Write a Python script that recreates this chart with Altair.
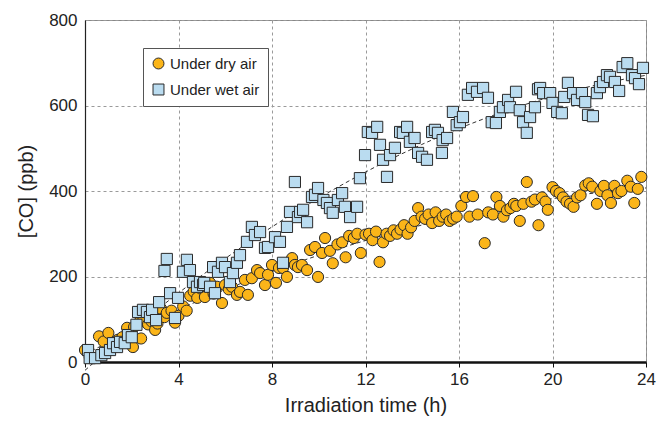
import altair as alt
import pandas as pd

series_names = ["Under dry air", "Under wet air"]

dry_h = [0.0, 0.2, 0.6, 0.8, 1.0, 1.2, 1.4, 1.6, 1.8, 2.05, 2.1, 2.3, 2.4, 2.5, 2.7, 2.85, 3.0, 3.1,
         3.25, 3.4, 3.5, 3.7, 3.85, 4.0, 4.2, 4.35, 4.5, 4.65, 4.8, 4.95, 5.13, 5.35, 5.5, 5.65,
         5.86, 5.99, 6.15, 6.29, 6.5, 6.63, 6.84, 6.97, 7.14, 7.36, 7.49, 7.7, 7.83, 8.0, 8.17,
         8.3, 8.47, 8.64, 8.86, 8.98, 9.11, 9.28, 9.5, 9.63, 9.84, 9.97, 10.14, 10.27, 10.48,
         10.6, 10.8, 11.0, 11.15, 11.3, 11.5, 11.65, 11.8, 12.0, 12.15, 12.3, 12.45, 12.6, 12.75,
         12.9, 13.05, 13.2, 13.35, 13.5, 13.65, 13.8, 13.95, 14.1, 14.25, 14.4, 14.55, 14.7,
         14.85, 15.0, 15.15, 15.3, 15.45, 15.6, 15.75, 15.9, 16.1, 16.3, 16.45, 16.6, 16.8, 17.1,
         17.25, 17.45, 17.6, 17.75, 17.9, 18.05, 18.2, 18.35, 18.45, 18.6, 18.75, 18.9, 19.1,
         19.25, 19.4, 19.55, 19.7, 19.8, 20.0, 20.15, 20.3, 20.45, 20.6, 20.75, 20.9, 21.05, 21.2,
         21.4, 21.55, 21.7, 21.9, 22.05, 22.2, 22.35, 22.5, 22.65, 22.8, 22.95, 23.2, 23.35, 23.5,
         23.65, 23.8]
dry_ppb = [28, 12, 60, 48, 68, 44, 52, 58, 80, 35, 82, 92, 55, 100, 88, 95, 75, 90,
           125, 105, 115, 120, 92, 108, 130, 120, 155, 165, 150, 172, 152, 185, 160, 176,
           138, 180, 170, 176, 157, 164, 192, 157, 196, 215, 208, 180, 204, 227, 185,
           220, 220, 199, 243, 227, 222, 227, 215, 262, 269, 199, 255, 290, 260,
           231, 275, 280, 245, 295, 290, 300, 255, 298, 300, 285, 305, 234, 280,
           300, 295, 308, 300, 310, 320, 300, 315, 330, 360, 340, 335, 345,
           325, 350, 330, 340, 345, 330, 335, 340, 365, 386, 340, 388, 345, 278,
           350, 345, 386, 365, 340, 355, 360, 370, 365, 330, 370, 421, 375,
           380, 320, 385, 375, 356, 409, 400, 395, 385, 375, 370, 363, 385, 390,
           413, 418, 410, 370, 400, 412, 390, 372, 412, 395, 400, 424, 410, 372,
           405, 433]

wet_h = [0.13, 0.2, 0.43, 0.7, 0.86, 1.07, 1.2, 1.37, 1.5, 1.7, 1.84, 2.0, 2.2, 2.27, 2.48, 2.65,
         2.78, 2.87, 3.04, 3.17, 3.4, 3.5, 3.64, 3.85, 3.98, 4.19, 4.36, 4.49, 4.62, 4.79, 4.92,
         5.05, 5.1, 5.35, 5.48, 5.56, 5.69, 5.86, 5.99, 6.2, 6.33, 6.5, 6.63, 6.93, 7.14, 7.27,
         7.49, 7.7, 7.83, 8.13, 8.34, 8.47, 8.64, 8.77, 8.98, 9.11, 9.2, 9.33, 9.5, 9.71, 9.84,
         9.97, 10.2, 10.35, 10.48, 10.6, 10.82, 11.0, 11.12, 11.34, 11.64, 11.76, 11.98, 12.1,
         12.28, 12.5, 12.62, 12.75, 12.92, 13.05, 13.26, 13.48, 13.6, 13.78, 13.9, 14.1, 14.25,
         14.42, 14.63, 14.85, 14.97, 15.1, 15.27, 15.3, 15.49, 15.74, 15.9, 16.04, 16.17, 16.38,
         16.56, 16.77, 17.03, 17.24, 17.4, 17.58, 17.75, 17.88, 18.1, 18.18, 18.44, 18.6, 18.74,
         18.9, 19.04, 19.25, 19.38, 19.47, 19.6, 19.9, 20.0, 20.2, 20.4, 20.5, 20.66, 20.88,
         21.05, 21.26, 21.4, 21.52, 21.73, 21.9, 22.03, 22.16, 22.33, 22.46, 22.67, 22.85, 23.0,
         23.2, 23.4, 23.53, 23.7, 23.87]
wet_ppb = [28, 9, 9, 16, 21, 28, 44, 35, 47, 44, 63, 58, 87, 117, 122, 117,
           105, 122, 98, 140, 213, 241, 161, 103, 150, 211, 239, 215, 187, 176, 187,
           180, 185, 176, 222, 161, 211, 232, 222, 187, 208, 232, 250, 281, 316, 297,
           304, 267, 269, 292, 281, 232, 316, 351, 421, 339, 351, 356, 327, 386, 391,
           407, 379, 372, 360, 349, 379, 395, 363, 339, 363, 430, 484, 538,
           536, 550, 508, 473, 433, 484, 501, 538, 536, 550, 515, 524, 489,
           480, 473, 538, 543, 536, 489, 519, 524, 585, 554, 561, 573, 625,
           641, 632, 641, 618, 561, 559, 585, 596, 613, 596, 632, 589, 561,
           536, 573, 596, 638, 641, 629, 629, 606, 585, 582, 620, 653, 629,
           613, 629, 608, 578, 575, 629, 643, 655, 671, 667, 655, 634, 690,
           699, 671, 664, 650, 688]

x_ticks = [0, 4, 8, 12, 16, 20, 24]
y_ticks = [0, 200, 400, 600, 800]

df = pd.concat([
    pd.DataFrame({"h": dry_h, "ppb": dry_ppb, "series": series_names[0]}),
    pd.DataFrame({"h": wet_h, "ppb": wet_ppb, "series": series_names[1]}),
], ignore_index=True)

FONT = "Liberation Sans"

x_enc = alt.X("h:Q", scale=alt.Scale(domain=[0, 24], nice=False, zero=False),
              axis=alt.Axis(values=x_ticks, title="Irradiation time (h)", format="d",
                            grid=True, gridDash=[3, 3], gridColor="#9a9a9a", gridWidth=1,
                            domainColor="#111", domainWidth=2.5, tickColor="#111",
                            tickSize=5, tickWidth=1, labelPadding=4, labelFlush=False,
                            labelFont=FONT, labelFontSize=17, labelColor="#222",
                            titleFont=FONT, titleFontSize=20, titleFontWeight="normal",
                            titleColor="#222", titlePadding=8))
y_enc = alt.Y("ppb:Q", scale=alt.Scale(domain=[0, 800], nice=False),
              axis=alt.Axis(values=y_ticks, title="[CO] (ppb)", format="d",
                            grid=True, gridDash=[3, 3], gridColor="#9a9a9a", gridWidth=1,
                            domainColor="#222", domainWidth=1.2, ticks=False,
                            labelPadding=8, labelFlush=False,
                            labelFont=FONT, labelFontSize=17, labelColor="#222",
                            titleFont=FONT, titleFontSize=20, titleFontWeight="normal",
                            titleColor="#222", titlePadding=12))

trend = alt.Chart(df).transform_regression(
    "h", "ppb", groupby=["series"], method="poly", order=2, extent=[0, 24]
).mark_line(color="#333", strokeDash=[4, 3], strokeWidth=1).encode(
    x=x_enc, y=y_enc, detail="series:N"
)

legend = alt.Legend(
    title=None, symbolStrokeWidth=1,
    symbolSize=120, labelFont=FONT, labelFontSize=15,
    labelColor="#222", labelOffset=4,
)

points = alt.Chart(df).mark_point(filled=True, size=125,
                                   strokeWidth=1, opacity=1).encode(
    x=x_enc, y=y_enc,
    fill=alt.Fill("series:N", scale=alt.Scale(domain=series_names,
                                              range=["#FBB519", "#BADCF0"]),
                  legend=legend),
    stroke=alt.Stroke("series:N", scale=alt.Scale(domain=series_names,
                                                  range=["#2a2a2a", "#2a2a2a"]),
                      legend=legend),
    shape=alt.Shape("series:N", scale=alt.Scale(domain=series_names,
                                                range=["circle", "square"]),
                    legend=legend),
)

chart = alt.layer(trend, points).properties(
    width=561, height=342,
    autosize=alt.AutoSizeParams(type="none"),
    padding={"left": 85, "top": 20, "right": 13, "bottom": 63},
    background="white",
).configure_view(stroke="#888", strokeWidth=1).configure_legend(
    orient="none", legendX=58, legendY=28,
    fillColor="white", strokeColor="#555", padding=8, rowPadding=10,
    cornerRadius=0,
)

chart.save("out.html", embed_options={"renderer": "svg", "actions": False})
